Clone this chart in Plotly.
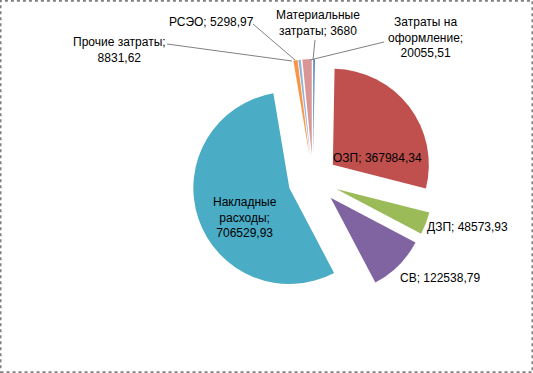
import plotly.graph_objects as go

W, H = 533, 373

labels = ["Материальные затраты", "ОЗП", "ДЗП", "СВ", "Накладные расходы",
          "Прочие затраты", "РСЭО", "Затраты на оформление"]
values = [3680, 367984.34, 48573.93, 122538.79, 706529.93, 8831.62, 5298.97, 20055.51]
colors = ["#4F81BD", "#C0504D", "#9BBB59", "#8064A2", "#4BACC6",
          "#F79646", "#95B3D7", "#D99694"]
# label text as shown (with line breaks)
label_lines = ["Материальные<br>затраты", "ОЗП", "ДЗП", "СВ", "Накладные<br>расходы",
               "Прочие затраты", "РСЭО", "Затраты на<br>оформление"]
# label centre positions in pixels (layout)
label_pos = [(318, 23), (377, 158), (467, 227), (440, 278), (245, 218),
             (119, 50), (211, 22), (425, 38)]
label_sep = ["; ", "; ", "; ", "; ", ";<br>", ";<br>", "; ", ";<br>"]
# leader lines: (x0,y0,x1,y1) pixels
leaders = {0: (315, 40, 313, 60), 5: (167, 44, 292, 61), 6: (253, 24, 295, 60),
           7: (384, 42, 310, 60)}


def fmt(v):
    s = ("%.2f" % v).rstrip("0").rstrip(".")
    return s.replace(".", ",")


def px(x):
    return x / W


def py(y):
    return 1 - y / H


pull = 0.26
cx, cy, r = 313, 180, 96
half = r * (1 + pull)

fig = go.Figure(go.Pie(
    labels=labels, values=values, sort=False, direction="clockwise", rotation=0,
    marker=dict(colors=colors, line=dict(width=0)),
    pull=[pull] * len(values), textinfo="none", showlegend=False,
    domain=dict(x=[px(cx - half), px(cx + half)], y=[py(cy + half), py(cy - half)]),
))

annotations = []
for i, lab in enumerate(label_lines):
    txt = lab + label_sep[i] + fmt(values[i])
    x, y = label_pos[i]
    annotations.append(dict(x=px(x), y=py(y), xref="paper", yref="paper", text=txt,
                            showarrow=False, xanchor="center", yanchor="middle",
                            font=dict(family="Liberation Sans, Arial", size=12, color="#000000")))

shapes = [dict(type="rect", xref="paper", yref="paper", x0=0.001, y0=0.002, x1=0.999, y1=0.998,
               line=dict(color="#808080", width=2, dash="dot"))]
for i, (x0, y0, x1, y1) in leaders.items():
    shapes.append(dict(type="line", xref="paper", yref="paper", x0=px(x0), y0=py(y0),
                       x1=px(x1), y1=py(y1), line=dict(color="#808080", width=1)))

fig.update_layout(width=W, height=H, margin=dict(l=0, r=0, t=0, b=0),
                  paper_bgcolor="white", plot_bgcolor="white",
                  annotations=annotations, shapes=shapes)

fig.write_html("out.html", config={"displayModeBar": False},
               post_script="document.body.style.margin='0';")
